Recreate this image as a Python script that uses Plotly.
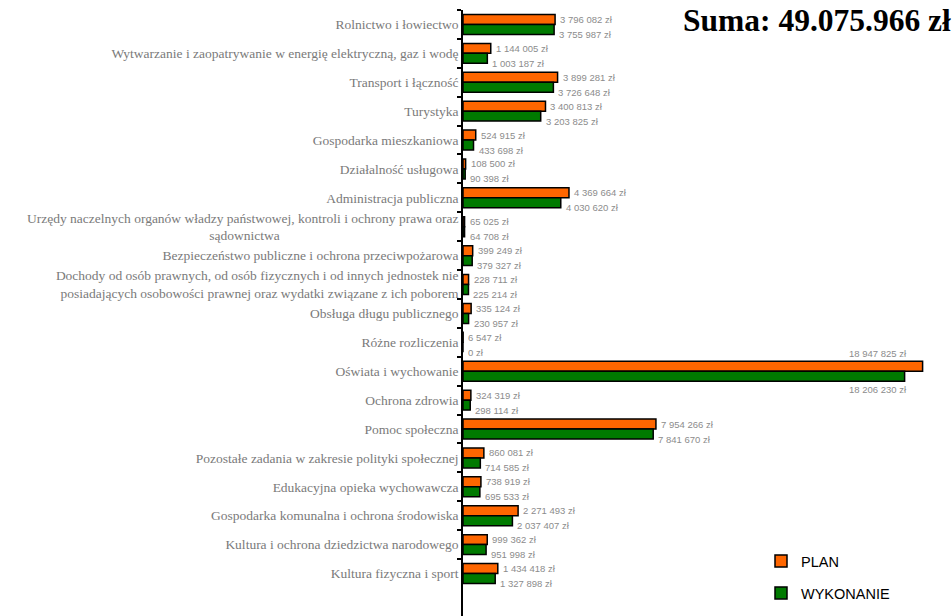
import plotly.graph_objects as go

categories = [
    "Rolnictwo i łowiectwo",
    "Wytwarzanie i zaopatrywanie w energię elektryczną, gaz i wodę",
    "Transport i łączność",
    "Turystyka",
    "Gospodarka mieszkaniowa",
    "Działalność usługowa",
    "Administracja publiczna",
    "Urzędy naczelnych organów władzy państwowej, kontroli i ochrony prawa oraz<br>sądownictwa" + "\u00a0" * 53,
    "Bezpieczeństwo publiczne i ochrona przeciwpożarowa",
    "Dochody od osób prawnych, od osób fizycznych i od innych jednostek nie<br>posiadających osobowości prawnej oraz wydatki związane z ich poborem",
    "Obsługa długu publicznego",
    "Różne rozliczenia",
    "Oświata i wychowanie",
    "Ochrona zdrowia",
    "Pomoc społeczna",
    "Pozostałe zadania w zakresie polityki społecznej",
    "Edukacyjna opieka wychowawcza",
    "Gospodarka komunalna i ochrona środowiska",
    "Kultura i ochrona dziedzictwa narodowego",
    "Kultura fizyczna i sport",
]

plan = [3796082, 1144005, 3899281, 3400813, 524915, 108500, 4369664, 65025,
        399249, 228711, 335124, 6547, 18947825, 324319, 7954266, 860081,
        738919, 2271493, 999362, 1434418]

wykonanie = [3755987, 1003187, 3726648, 3203825, 433698, 90398, 4030620, 64708,
             379327, 225214, 230957, 0, 18206230, 298114, 7841670, 714585,
             695533, 2037407, 951998, 1327898]

series_names = ["PLAN", "WYKONANIE"]
title_text = "Suma: 49.075.966 zł"

ORANGE = "#FF6600"
GREEN = "#007A00"


def fmt(v):
    return f"{v:,}".replace(",", " ") + " zł"


fig = go.Figure()
fig.add_trace(go.Bar(
    y=categories, x=plan, orientation="h", name=series_names[0],
    marker=dict(color=ORANGE, line=dict(color="black", width=1.5)),
    legend="legend", hoverinfo="skip",
))
fig.add_trace(go.Bar(
    y=categories, x=wykonanie, orientation="h", name=series_names[1],
    marker=dict(color=GREEN, line=dict(color="black", width=1.5)),
    legend="legend2", hoverinfo="skip",
))

annotations = []
label_font = dict(family="Liberation Sans, Arial, sans-serif", size=9.5, color="#8c8c8c")
pmax = max(plan)
wmax = max(wykonanie)
for cat, p, w in zip(categories, plan, wykonanie):
    if p == pmax:
        annotations.append(dict(x=p, y=cat, xref="x", yref="y", text=fmt(p), showarrow=False,
                                xanchor="right", xshift=-14, yshift=18, font=label_font))
    else:
        annotations.append(dict(x=p, y=cat, xref="x", yref="y", text=fmt(p), showarrow=False,
                                xanchor="left", xshift=3, yshift=5, font=label_font))
    if w == wmax:
        annotations.append(dict(x=w, y=cat, xref="x", yref="y", text=fmt(w), showarrow=False,
                                xanchor="right", xshift=4, yshift=-18, font=label_font))
    else:
        annotations.append(dict(x=w, y=cat, xref="x", yref="y", text=fmt(w), showarrow=False,
                                xanchor="left", xshift=3, yshift=-10, font=label_font))

annotations.append(dict(
    x=(681 - 463) / 489, y=1.0, xref="paper", yref="paper", xanchor="left", yanchor="middle",
    yshift=-10, text="<b>" + title_text + "</b>", showarrow=False,
    font=dict(family="Liberation Serif, Times New Roman, serif", size=31.5, color="black"),
))

legend_font = dict(family="Liberation Sans, Arial, sans-serif", size=14.5, color="black")
legend_x = (761 - 463) / 489

fig.update_layout(
    width=952, height=616,
    margin=dict(l=463, r=0, t=10, b=0),
    paper_bgcolor="white", plot_bgcolor="white",
    barmode="group", bargap=0.31, bargroupgap=0,
    showlegend=True,
    legend=dict(
        x=legend_x, y=1 - (545 - 10) / 606, xanchor="left", yanchor="top",
        font=legend_font, bgcolor="rgba(0,0,0,0)",
    ),
    legend2=dict(
        x=legend_x, y=1 - (577 - 10) / 606, xanchor="left", yanchor="top",
        font=legend_font, bgcolor="rgba(0,0,0,0)",
    ),
    xaxis=dict(range=[0, 20.16e6], visible=False, showgrid=False, zeroline=False),
    yaxis=dict(
        type="category", categoryorder="array", categoryarray=categories,
        range=[20.47, -0.5], showline=True, linecolor="black", linewidth=1.5,
        ticks="outside", ticklen=4, tickcolor="black", tickwidth=1.5,
        tickson="boundaries", showgrid=False, automargin=False,
        tickfont=dict(family="Liberation Serif, Times New Roman, serif", size=13.5, color="#7a7a7a"),
    ),
    annotations=annotations,
)

fig.write_html("out.html", config={"displayModeBar": False},
               post_script="document.body.style.margin='0px';")
